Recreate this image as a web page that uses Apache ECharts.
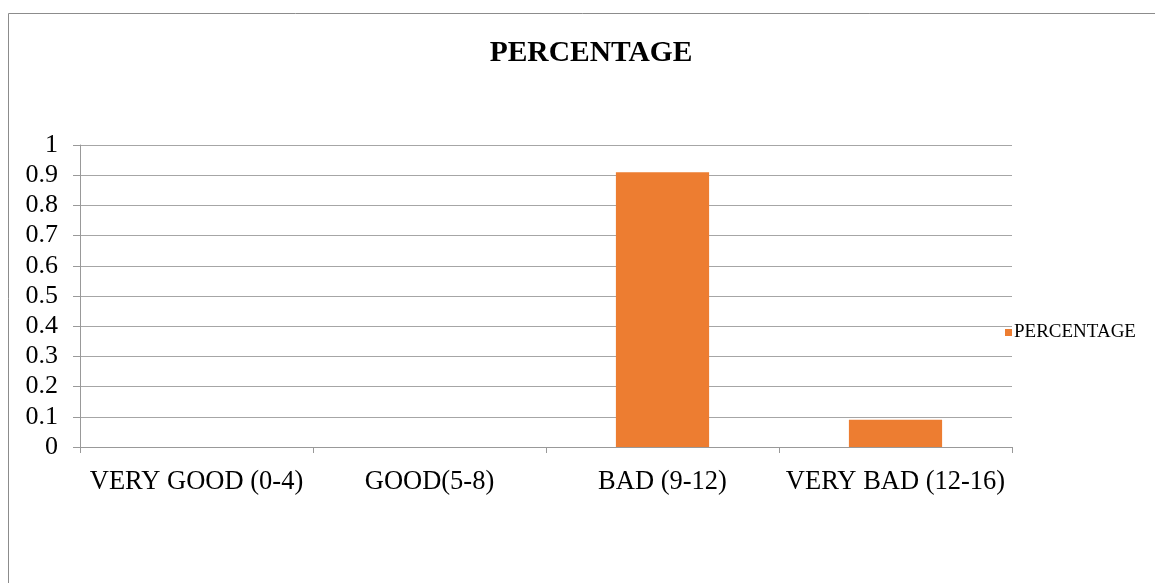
<!DOCTYPE html>
<html>
<head>
<meta charset="utf-8">
<style>
  html, body { margin: 0; padding: 0; background: #fff; }
  #chart { width: 1155px; height: 583px; }
</style>
<script src="https://cdn.jsdelivr.net/npm/echarts@6/dist/echarts.min.js"></script>
</head>
<body>
<div id="chart"></div>
<script>
// Score bands and share of respondents in each
const categories = ['VERY GOOD (0-4)', 'GOOD(5-8)', 'BAD (9-12)', 'VERY BAD (12-16)'];
const percentage = [0, 0, 0.91, 0.09];
const seriesName = 'PERCENTAGE';

const serif = '"Liberation Serif", "DejaVu Serif", serif';
const chart = echarts.init(document.getElementById('chart'), null, { renderer: 'canvas' });

chart.setOption({
  animation: false,
  backgroundColor: '#fff',
  graphic: [{
    type: 'rect',
    shape: { x: 8.5, y: 13.5, width: 1200, height: 620 },
    style: { fill: 'none', stroke: '#8c8c8c', lineWidth: 1 },
    silent: true
  }],
  title: {
    text: 'PERCENTAGE',
    left: 586,
    textAlign: 'center',
    top: 33,
    textStyle: { fontFamily: serif, fontWeight: 'bold', fontSize: 29.5, color: '#000' }
  },
  legend: {
    data: [seriesName],
    left: 1000,
    top: 318,
    itemWidth: 7,
    itemHeight: 7,
    itemGap: 4,
    icon: 'rect',
    textStyle: { fontFamily: serif, fontSize: 19, color: '#000', padding: [0, 0, 0, -3] }
  },
  grid: { left: 80, right: 143, top: 145, bottom: 136, containLabel: false },
  xAxis: {
    type: 'category',
    data: categories,
    axisLine: { show: true, lineStyle: { color: '#999', width: 1 } },
    axisTick: { show: true, alignWithLabel: false, length: 6, lineStyle: { color: '#999' } },
    axisLabel: { fontFamily: serif, fontSize: 26.5, color: '#000', margin: 22, interval: 0 }
  },
  yAxis: {
    type: 'value',
    min: 0,
    max: 1,
    interval: 0.1,
    axisLine: { show: true, lineStyle: { color: '#999', width: 1 } },
    axisTick: { show: true, length: 7, lineStyle: { color: '#999' } },
    axisLabel: {
      fontFamily: serif, fontSize: 26, color: '#000', margin: 22,
      formatter: v => String(Math.round(v * 10) / 10)
    },
    splitLine: { show: true, lineStyle: { color: '#a6a6a6', width: 1 } }
  },
  series: [{
    name: seriesName,
    type: 'bar',
    data: percentage,
    barWidth: '40%',
    itemStyle: { color: '#ed7d31' }
  }]
});
</script>
</body>
</html>
